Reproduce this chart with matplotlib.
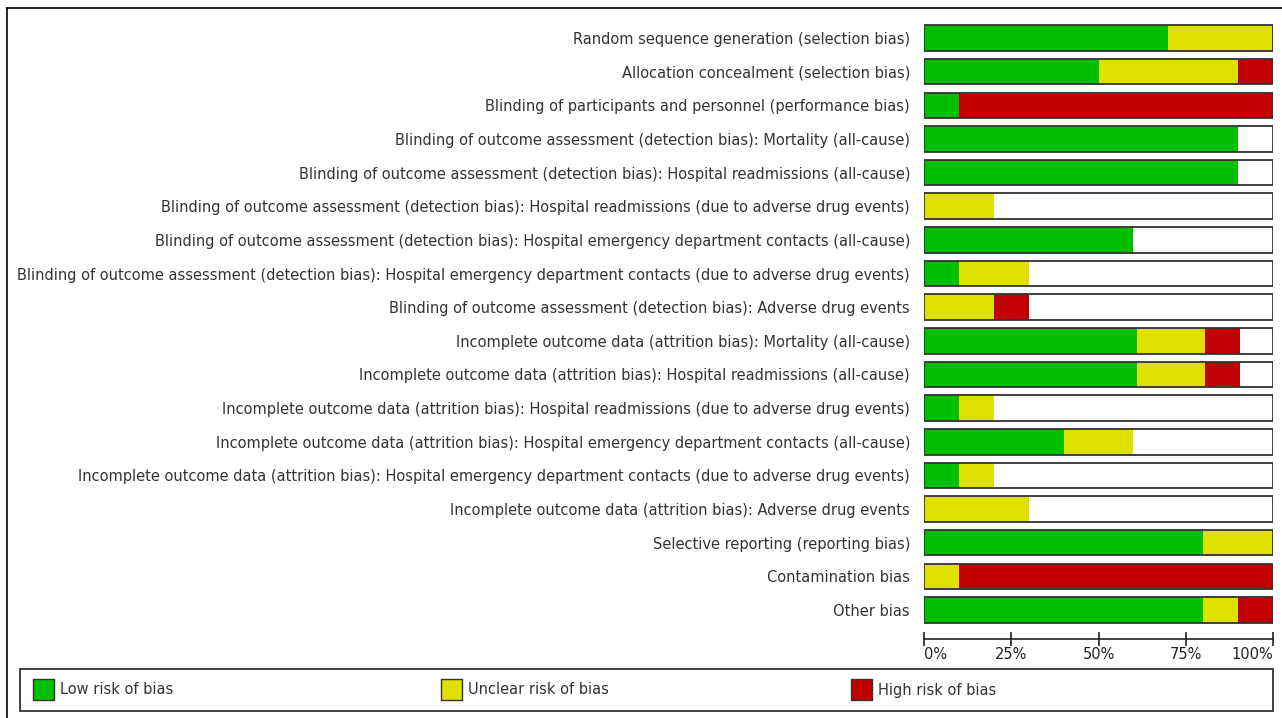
import matplotlib.pyplot as plt
from matplotlib.patches import Rectangle
from matplotlib.lines import Line2D

# risk of bias domains (top to bottom)
domains = [
    "Random sequence generation (selection bias)",
    "Allocation concealment (selection bias)",
    "Blinding of participants and personnel (performance bias)",
    "Blinding of outcome assessment (detection bias): Mortality (all-cause)",
    "Blinding of outcome assessment (detection bias): Hospital readmissions (all-cause)",
    "Blinding of outcome assessment (detection bias): Hospital readmissions (due to adverse drug events)",
    "Blinding of outcome assessment (detection bias): Hospital emergency department contacts (all-cause)",
    "Blinding of outcome assessment (detection bias): Hospital emergency department contacts (due to adverse drug events)",
    "Blinding of outcome assessment (detection bias): Adverse drug events",
    "Incomplete outcome data (attrition bias): Mortality (all-cause)",
    "Incomplete outcome data (attrition bias): Hospital readmissions (all-cause)",
    "Incomplete outcome data (attrition bias): Hospital readmissions (due to adverse drug events)",
    "Incomplete outcome data (attrition bias): Hospital emergency department contacts (all-cause)",
    "Incomplete outcome data (attrition bias): Hospital emergency department contacts (due to adverse drug events)",
    "Incomplete outcome data (attrition bias): Adverse drug events",
    "Selective reporting (reporting bias)",
    "Contamination bias",
    "Other bias",
]
low = [70, 50, 10, 90, 90, 0, 60, 10, 0, 61, 61, 10, 40, 10, 0, 80, 0, 80]
unclear = [30, 40, 0, 0, 0, 20, 0, 20, 20, 19.5, 19.5, 10, 20, 10, 30, 20, 10, 10]
high = [0, 10, 90, 0, 0, 0, 0, 0, 10, 10, 10, 0, 0, 0, 0, 0, 90, 10]

legend_labels = ["Low risk of bias", "Unclear risk of bias", "High risk of bias"]
tick_vals = [0, 25, 50, 75, 100]
tick_labels = ["0%", "25%", "50%", "75%", "100%"]

GREEN = "#00BF00"
YELLOW = "#E0E000"
RED = "#C00000"
EDGE = "#333333"
TXT = "#333333"

W, H = 1282, 718
plt.rcParams['font.family'] = ['DejaVu Sans']
fig = plt.figure(figsize=(W / 100, H / 100), dpi=100)

def fx(px):
    return px / W

def fy(py):
    return 1 - py / H

# outer frame (top and left only)
fig.add_artist(Line2D([fx(7), 1], [fy(8), fy(8)], color="black", lw=1.2))
fig.add_artist(Line2D([fx(7), fx(7)], [fy(8), 0], color="black", lw=1.2))

top_px, bot_px = 21.2, 626.8
ax = fig.add_axes([fx(924), fy(bot_px), 349 / W, (bot_px - top_px) / H])

n = len(domains)
y = list(range(n))
h = 0.76
lefts2 = [a for a in low]
lefts3 = [a + b for a, b in zip(low, unclear)]
ax.barh(y, [100] * n, height=h, color="white", edgecolor="none")
ax.barh(y, low, height=h, color=GREEN, edgecolor="none")
ax.barh(y, unclear, left=lefts2, height=h, color=YELLOW, edgecolor="none")
ax.barh(y, high, left=lefts3, height=h, color=RED, edgecolor="none")
ax.barh(y, [100] * n, height=h, color="none", edgecolor=EDGE, lw=1.3)

ax.set_xlim(0, 100)
ax.set_ylim(n - 0.5, -0.5)
ax.set_yticks(y)
ax.set_yticklabels(domains, fontsize=10.5, color=TXT)
ax.tick_params(axis="y", length=0, pad=10)

for s in ["top", "right", "left"]:
    ax.spines[s].set_visible(False)
ax.spines["bottom"].set_position(("outward", 8.8))
ax.spines["bottom"].set_color("#222222")
ax.spines["bottom"].set_linewidth(1.2)
ax.set_xticks(tick_vals)
ax.set_xticklabels(tick_labels, fontsize=10.5, color="#222222")
ax.tick_params(axis="x", direction="inout", length=10, width=1.2, color="#222222", pad=1)
tl = ax.get_xticklabels()
tl[0].set_ha("left")
tl[-1].set_ha("right")

# legend box
fig.add_artist(Rectangle((fx(20), fy(711)), fx(1273) - fx(20), fy(669) - fy(711),
                         facecolor="white", edgecolor=EDGE, lw=1.3))
for xp, col, lab in zip([33, 441, 851], [GREEN, YELLOW, RED], legend_labels):
    fig.add_artist(Rectangle((fx(xp), fy(700)), 21 / W, 21 / H,
                             facecolor=col, edgecolor=EDGE, lw=1.0))
    fig.text(fx(xp + 27), fy(690), lab, fontsize=10.5, color=TXT, va="center", ha="left")

fig.savefig("out.png", dpi=100)
